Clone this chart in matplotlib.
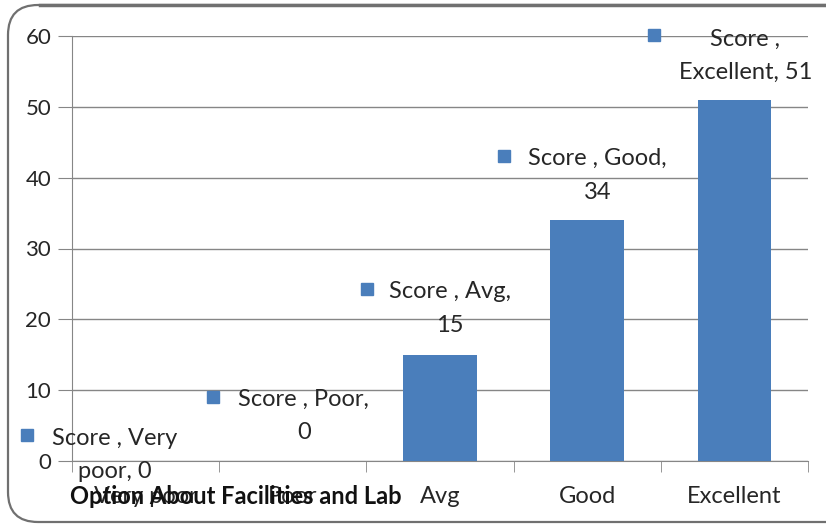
import numpy as np
import matplotlib
matplotlib.use("Agg")
import matplotlib.pyplot as plt
from matplotlib.patches import FancyBboxPatch
import matplotlib.transforms as mtransforms

# data
categories = ["Very poor", "Poor", "Avg", "Good", "Excellent"]
scores = [0, 0, 15, 34, 51]
series_name = "Score"
title = "Option About Facilities and Lab"

# label placement (pixels, relative to bar top centre): text centre, legend key
text_off = [(-31, 6), (11, 45), (10, 46), (10, 45), (11, 44)]
key_off = [(-119, 26), (-80, 64), (-73, 66), (-83, 64), (-80, 65)]

blue = "#4a7ebb"
grey = "#868686"
txtcol = "#262626"
plt.rcParams['font.family'] = ['Lato', 'DejaVu Sans']

fig = plt.figure(figsize=(8.26, 5.29), dpi=100)
ax = fig.add_axes([72 / 826, 1 - 461 / 529, (808 - 72) / 826, (461 - 36) / 529])

x = np.arange(len(categories))
ax.bar(x, scores, width=0.5, color=blue, zorder=3)

ax.set_xlim(-0.5, len(categories) - 0.5)
ax.set_ylim(0, 60)
ax.set_yticks(np.arange(0, 61, 10))
ax.tick_params(axis='y', length=10, color=grey, labelsize=16, pad=5, labelcolor=txtcol)
ax.set_xticks(x)
ax.set_xticklabels(categories)
ax.tick_params(axis='x', length=0, labelsize=17, pad=18, labelcolor=txtcol)
ax.set_xticks(np.arange(-0.5, len(categories)), minor=True)
ax.tick_params(axis='x', which='minor', length=8, color=grey)
ax.grid(axis='y', color=grey, linewidth=1, zorder=0)
for s in ['top', 'right']:
    ax.spines[s].set_visible(False)
ax.spines['left'].set_color(grey)
ax.spines['bottom'].set_color(grey)

# data labels with legend keys (Excel style)
labels = [series_name + " , Very\npoor, " + str(scores[0]),
          series_name + " , Poor,\n" + str(scores[1]),
          series_name + " , Avg,\n" + str(scores[2]),
          series_name + " , Good,\n" + str(scores[3]),
          series_name + " ,\nExcellent, " + str(scores[4])]
for i, v in enumerate(scores):
    ax.annotate(labels[i], xy=(i, v), xytext=text_off[i], textcoords='offset pixels',
                ha='center', va='center', fontsize=17, color=txtcol,
                linespacing=1.75, zorder=5, annotation_clip=False)
    dx, dy = key_off[i]
    tr = ax.transData + mtransforms.ScaledTranslation(dx / 100, dy / 100, fig.dpi_scale_trans)
    ax.plot([i], [v], marker='s', markersize=8.5, color=blue, transform=tr,
            clip_on=False, zorder=5)

fig.text(70 / 826, 1 - 497 / 529, title, fontsize=17, fontweight='bold',
         ha='left', va='center', color='#111111')

# rounded chart border (pixel coordinates, right side runs off the image)
border = FancyBboxPatch((8, 7), 860, 517,
                        boxstyle="round,pad=0,rounding_size=30",
                        transform=None, facecolor='none',
                        edgecolor='#707070', linewidth=1.6, zorder=0)
fig.patches.append(border)
fig.add_artist(plt.Line2D([40 / 826, 1], [1 - 5 / 529, 1 - 5 / 529],
                          transform=fig.transFigure, color='#707070', linewidth=2.5))

fig.savefig("out.png", dpi=100)
